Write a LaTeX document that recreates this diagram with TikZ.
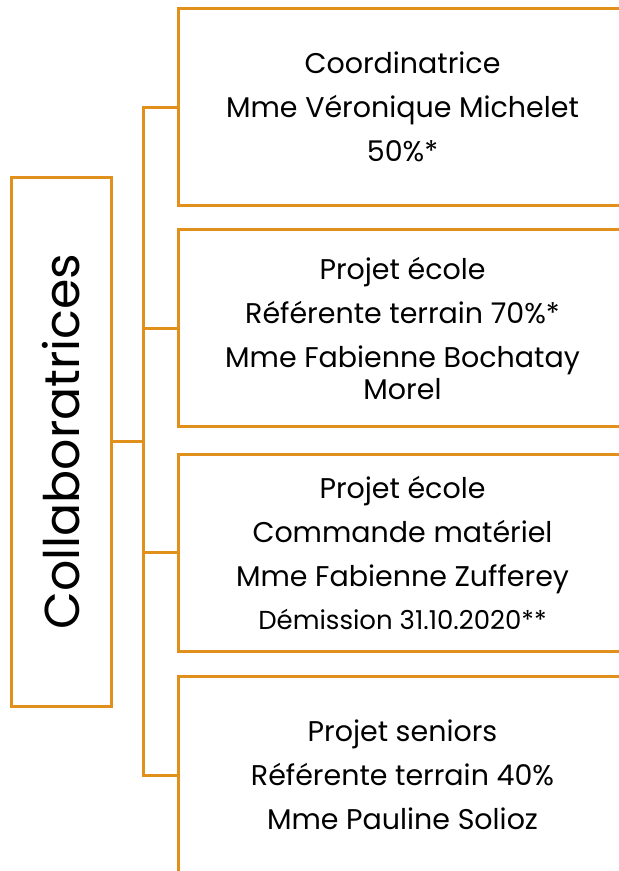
\documentclass[tikz,border=0pt]{standalone}
\usepackage{fontspec}
\setmainfont{Poppins}
\usepackage{xcolor}
\usepackage{tikz}
\usetikzlibrary{positioning}
\definecolor{orgorange}{RGB}{226,144,28}
\tikzset{
  orgroot/.style={
    rectangle, draw=orgorange, line width=3pt, rotate=90,
    minimum width=529pt, minimum height=100pt, inner sep=0pt,
    font=\fontsize{49}{60}\selectfont
  },
  orgbox/.style={
    rectangle, draw=orgorange, line width=3pt,
    minimum width=449pt, minimum height=197pt, inner sep=0pt,
    align=center, font=\fontsize{28.5}{32}\selectfont
  },
  orgline/.style={draw=orgorange, line width=3pt}
}

\begin{document}
\begin{tikzpicture}[x=1pt,y=-1pt]
  \clip (0,0) rectangle (619,871);
  % left box and the four team members
  \node[orgroot] (root) at (61,441.5) {Collaboratrices};
  \node[orgbox] (coord) at (402.5,107) {Coordinatrice\\[12pt]Mme Véronique Michelet\\[12pt]50\%*};
  \node[orgbox] (ecole1) at (402.5,328) {Projet école\\[12pt]Référente terrain 70\%*\\[12pt]Mme Fabienne Bochatay\\Morel};
  \node[orgbox] (ecole2) at (402.5,552.5) {Projet école\\[12pt]Commande matériel\\[12pt]Mme Fabienne Zufferey\\[11pt]{\fontsize{26}{28}\selectfont Démission 31.10.2020**}};
  \node[orgbox] (seniors) at (402.5,775) {Projet seniors\\[12pt]Référente terrain 40\%\\[12pt]Mme Pauline Solioz};
  % connectors
  \draw[orgline] (coord.west) -- ++(-33,0) coordinate (trunk) |- (seniors.west);
  \draw[orgline] (root.south) -- (root.south -| trunk);
  \draw[orgline] (ecole1.west) -- (ecole1.west -| trunk);
  \draw[orgline] (ecole2.west) -- (ecole2.west -| trunk);
\end{tikzpicture}
\end{document}
